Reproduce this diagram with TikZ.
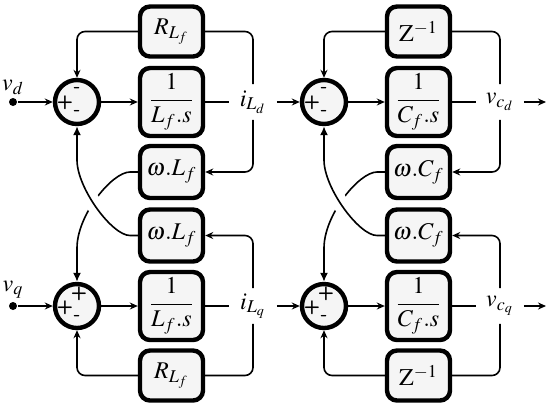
\documentclass[tikz,border=0pt]{standalone}
\usepackage{amsmath}
\usepackage{mathptmx}
\usepackage{tikz}
\usetikzlibrary{arrows.meta}

\begin{document}
\begin{tikzpicture}[x=0.5pt, y=-0.5pt, line width=0.8pt,
    blk/.style={draw, line width=2.2pt, rounded corners=5pt, fill=gray!8,
        minimum width=31.5pt, inner sep=0pt},
    sumnode/.style={circle, draw, line width=2.2pt, fill=gray!8,
        minimum size=22pt, inner sep=0pt},
    sgn/.style={font=\sffamily\bfseries\fontsize{9.5}{10}\selectfont, inner sep=0pt},
    lab/.style={minimum width=23pt, minimum height=17pt, inner sep=0pt},
    sig/.style={-{Stealth[length=4pt, width=3.5pt]}},
    cross/.style={-{Latex[length=4.5pt, width=4pt]}},
    font=\fontsize{12}{14}\selectfont]
    \useasboundingbox (0,0) rectangle (550,409);

    % 1. Khối bên trái (dòng điện)
    \node[circle, fill, inner sep=0pt, minimum size=4pt,
        label={[inner sep=1pt]above:$v_d$}] (vd) at (13,102) {};
    \node[circle, fill, inner sep=0pt, minimum size=4pt,
        label={[inner sep=1pt]above:$v_q$}] (vq) at (13,306) {};

    \node[sumnode] (sum1) at (77,102) {};
    \node[sumnode] (sum2) at (77,306) {};
    \node[sgn] (s1a) at ([shift={(-12,1)}]sum1) {+};
    \node[sgn] (s1b) at ([shift={(0,-12)}]sum1) {-};
    \node[sgn] (s1c) at ([shift={(0,11)}]sum1) {-};
    \node[sgn] (s2a) at ([shift={(-12,2)}]sum2) {+};
    \node[sgn] (s2b) at ([shift={(2,-12)}]sum2) {+};
    \node[sgn] (s2c) at ([shift={(0,12)}]sum2) {-};

    \node[blk, minimum height=25pt] (rl1) at (171.5,31.5) {$R_{L_f}$};
    \node[blk, minimum height=34pt] (g1) at (171.5,102) {$\dfrac{1}{L_f.s}$};
    \node[blk, minimum height=26pt] (wl1) at (171.5,172) {$\omega.L_f$};
    \node[blk, minimum height=26pt] (wl2) at (171.5,235.5) {$\omega.L_f$};
    \node[blk, minimum height=34pt] (g2) at (171.5,306) {$\dfrac{1}{L_f.s}$};
    \node[blk, minimum height=25pt] (rl2) at (171.5,375.5) {$R_{L_f}$};

    \node[lab] (il1) at (253,102) {$i_{L_d}$};
    \node[lab] (il2) at (253,306) {$i_{L_q}$};

    % 2. Khối bên phải (điện áp)
    \node[sumnode] (sum3) at (324,102) {};
    \node[sumnode] (sum4) at (324,306) {};
    \node[sgn] (s3a) at ([shift={(-12,1)}]sum3) {+};
    \node[sgn] (s3b) at ([shift={(0,-12)}]sum3) {-};
    \node[sgn] (s3c) at ([shift={(0,11)}]sum3) {-};
    \node[sgn] (s4a) at ([shift={(-12,2)}]sum4) {+};
    \node[sgn] (s4b) at ([shift={(2,-12)}]sum4) {+};
    \node[sgn] (s4c) at ([shift={(0,12)}]sum4) {-};

    \node[blk, minimum height=25pt] (z1) at (418.5,31.5) {$\mathrm{Z}^{-1}$};
    \node[blk, minimum height=34pt] (g3) at (418.5,102) {$\dfrac{1}{C_f.s}$};
    \node[blk, minimum height=26pt] (wc1) at (418.5,172) {$\omega.C_f$};
    \node[blk, minimum height=26pt] (wc2) at (418.5,235.5) {$\omega.C_f$};
    \node[blk, minimum height=34pt] (g4) at (418.5,306) {$\dfrac{1}{C_f.s}$};
    \node[blk, minimum height=25pt] (z2) at (418.5,375.5) {$\mathrm{Z}^{-1}$};

    \node[lab] (vc1) at (500,102) {$v_{c_d}$};
    \node[lab] (vc2) at (500,306) {$v_{c_q}$};
    \coordinate (out1) at (546,102);
    \coordinate (out2) at (546,306);

    % 3. Đường tín hiệu chính
    \draw[sig] (vd) -- (sum1);
    \draw[sig] (vq) -- (sum2);
    \draw[sig] (sum1) -- (g1);
    \draw[sig] (sum2) -- (g2);
    \draw (g1) -- (il1);
    \draw (g2) -- (il2);
    \draw[sig] (il1) -- (sum3);
    \draw[sig] (il2) -- (sum4);
    \draw[sig] (sum3) -- (g3);
    \draw[sig] (sum4) -- (g4);
    \draw (g3) -- (vc1);
    \draw (g4) -- (vc2);
    \draw[sig] (vc1) -- (out1);
    \draw[sig] (vc2) -- (out2);

    % 4. Các vòng hồi tiếp
    \draw[rounded corners=4pt] (il1.north) |- (rl1.east);
    \draw[sig, rounded corners=4pt] (rl1.west) -| (sum1.north);
    \draw[sig, rounded corners=4pt] (il1.south) |- (wl1.east);
    \draw[rounded corners=4pt] (il2.south) |- (rl2.east);
    \draw[sig, rounded corners=4pt] (rl2.west) -| (sum2.south);
    \draw[sig, rounded corners=4pt] (il2.north) |- (wl2.east);

    \draw[rounded corners=4pt] (vc1.north) |- (z1.east);
    \draw[sig, rounded corners=4pt] (z1.west) -| (sum3.north);
    \draw[sig, rounded corners=4pt] (vc1.south) |- (wc1.east);
    \draw[rounded corners=4pt] (vc2.south) |- (z2.east);
    \draw[sig, rounded corners=4pt] (z2.west) -| (sum4.south);
    \draw[sig, rounded corners=4pt] (vc2.north) |- (wc2.east);

    % 5. Các nhánh chéo (ghép d-q)
    \draw[cross] (wl1.west) -- (130,172) .. controls (112,172) and (77,215)
        .. (77,248) -- (sum2.north);
    \draw[white, line width=8pt] (130,235.5) .. controls (112,235.5) and (77,188) .. (77,160);
    \draw[cross] (wl2.west) -- (130,235.5) .. controls (112,235.5) and (77,188)
        .. (77,160) -- (sum1.south);

    \draw[cross] (wc1.west) -- (377,172) .. controls (359,172) and (324,215)
        .. (324,248) -- (sum4.north);
    \draw[white, line width=8pt] (377,235.5) .. controls (359,235.5) and (324,188) .. (324,160);
    \draw[cross] (wc2.west) -- (377,235.5) .. controls (359,235.5) and (324,188)
        .. (324,160) -- (sum3.south);
\end{tikzpicture}
\end{document}
